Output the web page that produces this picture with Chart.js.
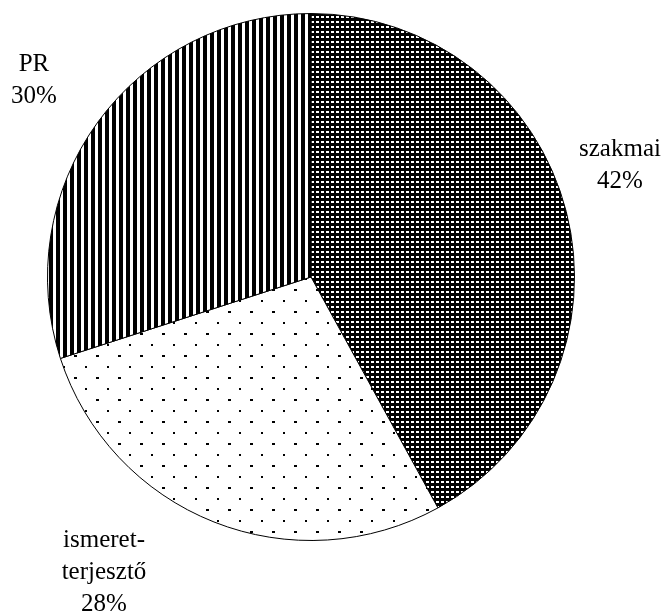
<!DOCTYPE html>
<html>
<head>
<meta charset="utf-8">
<script src="https://cdn.jsdelivr.net/npm/chart.js@4"></script>
<style>
  html, body { margin: 0; padding: 0; background: #fff; }
  #wrap { width: 666px; height: 614px; }
</style>
</head>
<body>
<div id="wrap"><canvas id="pie" width="666" height="614"></canvas></div>
<script>
// slices, clockwise from 12 o'clock
const categories = ['szakmai', 'ismeretterjesztő', 'PR'];
const shares = [42, 28, 30];
// label lines as printed on the chart
const labelLines = [['szakmai', '42%'], ['ismeret-', 'terjesztő', '28%'], ['PR', '30%']];

// where each label block sits (centre x, first baseline y)
const labelAnchors = [[620, 156], [104, 547], [34, 71]];

// fill patterns, built on small canvases
function makePattern(w, h, draw) {
  const c = document.createElement('canvas');
  c.width = w; c.height = h;
  const g = c.getContext('2d');
  draw(g);
  return g.createPattern(c, 'repeat');
}

const checkFill = makePattern(5, 5, g => {
  g.fillStyle = '#000'; g.fillRect(0, 0, 5, 5);
  g.fillStyle = '#fff'; g.fillRect(1, 1, 3, 2);
});
const dotFill = makePattern(22, 22, g => {
  g.fillStyle = '#fff'; g.fillRect(0, 0, 22, 22);
  g.fillStyle = '#000';
  g.fillRect(8, 3, 3, 2);
  g.fillRect(19, 14, 2, 2);
});
const stripeFill = makePattern(7, 7, g => {
  g.fillStyle = '#fff'; g.fillRect(0, 0, 7, 7);
  g.fillStyle = '#000'; g.fillRect(0, 0, 4, 7);
});

const labelPlugin = {
  id: 'sliceLabels',
  afterDraw(ch) {
    const ctx = ch.ctx;
    ctx.save();
    ctx.font = '25px "Liberation Serif", "DejaVu Serif", serif';
    ctx.fillStyle = '#000';
    ctx.textAlign = 'center';
    ctx.textBaseline = 'alphabetic';
    labelLines.forEach((lines, i) => {
      const [x, y] = labelAnchors[i];
      lines.forEach((t, k) => ctx.fillText(t, x, y + k * 32));
    });
    ctx.restore();
  }
};

new Chart(document.getElementById('pie'), {
  type: 'pie',
  data: {
    labels: categories,
    datasets: [{
      data: shares,
      backgroundColor: [checkFill, dotFill, stripeFill],
      borderColor: '#000',
      borderWidth: 1
    }]
  },
  options: {
    responsive: false,
    animation: false,
    layout: { padding: { left: 47, right: 91, top: 13, bottom: 73 } },
    plugins: {
      legend: { display: false },
      tooltip: { enabled: false }
    }
  },
  plugins: [labelPlugin]
});
</script>
</body>
</html>
